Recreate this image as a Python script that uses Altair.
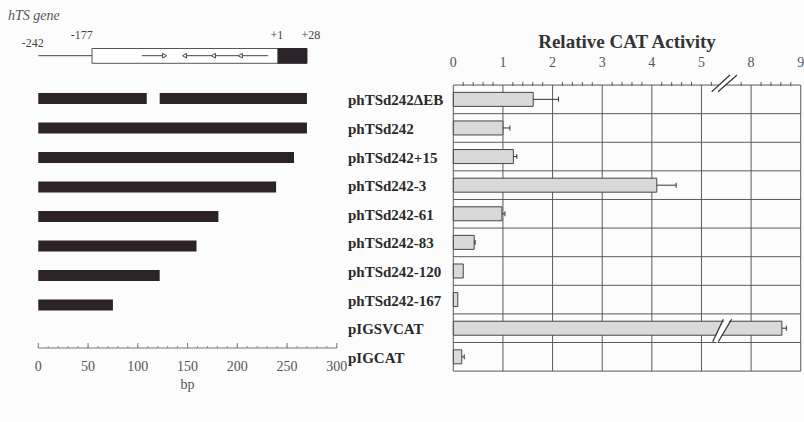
import altair as alt
import pandas as pd

# ---------------- data ----------------
constructs = ["phTSd242\u0394EB", "phTSd242", "phTSd242+15", "phTSd242-3", "phTSd242-61",
              "phTSd242-83", "phTSd242-120", "phTSd242-167", "pIGSVCAT", "pIGCAT"]
activity = [1.61, 1.00, 1.21, 4.10, 0.98, 0.42, 0.20, 0.09, 8.62, 0.17]
error = [0.51, 0.14, 0.07, 0.39, 0.06, 0.02, 0.0, 0.0, 0.09, 0.05]
activity_ticks = [0, 1, 2, 3, 4, 5, 8, 9]
activity_minor = [0.2, 0.4, 0.6, 0.8, 1.2, 1.4, 1.6, 1.8, 2.2, 2.4, 2.6, 2.8,
                  3.2, 3.4, 3.6, 3.8, 4.2, 4.4, 4.6, 4.8, 5.2, 7.8,
                  8.2, 8.4, 8.6, 8.8]
break_value = 5.43

deletion_row = [0, 0, 1, 2, 3, 4, 5, 6, 7]
deletion_start = [0, 122, 0, 0, 0, 0, 0, 0, 0]
deletion_end = [109, 270, 270, 257, 239, 181, 159, 122, 75]

bp_ticks = [0, 50, 100, 150, 200, 250, 300]
bp_minor = list(range(0, 301, 10))

gene_line_start, gene_line_end = [0], [54]
gene_box_start, gene_box_end = [54], [241]
gene_exon_start, gene_exon_end = [241], [270]
arrow_line_start = [104, 146]
arrow_line_end = [126, 231]
arrow_fwd = [127]
arrow_rev = [147, 176, 203]
gene_marks = ["-242", "-177", "+1", "+28"]
gene_mark_bp = [0, 54, 241, 270]

# ---------------- scales ----------------
XL = alt.Scale(domain=[-38.49, 769.55], nice=False, zero=False)
YL = alt.Scale(domain=[-3.339, 10.966], reverse=True, nice=False, zero=False)
XR = alt.Scale(domain=[-9.134, 7.066], nice=False, zero=False)
YR = alt.Scale(domain=[-3.2986, 11.104], reverse=True, nice=False, zero=False)

BREAK = "datum.v > 6 ? datum.v - 2 : datum.v"
SERIF = "Liberation Serif"
DARK = "#2b2327"
GRID = "#5a5a5a"
TXT = "#555555"

one = pd.DataFrame({"a": [0]})

# ---------------- left panel ----------------
del_df = pd.DataFrame({"row": deletion_row, "s": deletion_start, "e": deletion_end})
L = []
L.append(alt.Chart(del_df).mark_rule(color=DARK, strokeWidth=11).encode(
    x=alt.X("s:Q", scale=XL, axis=None), x2="e:Q",
    y=alt.Y("row:Q", scale=YL, axis=None)))

# gene map
L.append(alt.Chart(pd.DataFrame({"s": gene_line_start, "e": gene_line_end})).mark_rule(
    color="#444", strokeWidth=1).encode(
    x=alt.X("s:Q", scale=XL, axis=None), x2="e:Q", y=alt.value(55.7)))
L.append(alt.Chart(pd.DataFrame({"s": gene_box_start, "e": gene_box_end})).mark_rect(
    fill="white", stroke="#555", strokeWidth=1).encode(
    x=alt.X("s:Q", scale=XL, axis=None), x2="e:Q", y=alt.value(48.5), y2=alt.value(63.3)))
L.append(alt.Chart(pd.DataFrame({"s": gene_exon_start, "e": gene_exon_end})).mark_rect(
    fill=DARK, stroke=DARK, strokeWidth=1).encode(
    x=alt.X("s:Q", scale=XL, axis=None), x2="e:Q", y=alt.value(48.5), y2=alt.value(63.3)))
L.append(alt.Chart(pd.DataFrame({"s": arrow_line_start, "e": arrow_line_end})).mark_rule(
    color="#444", strokeWidth=1).encode(
    x=alt.X("s:Q", scale=XL, axis=None), x2="e:Q", y=alt.value(55.7)))
L.append(alt.Chart(pd.DataFrame({"p": arrow_fwd})).mark_point(
    shape="triangle-right", filled=True, fill="white", stroke="#444", strokeWidth=1,
    size=22, opacity=1).encode(x=alt.X("p:Q", scale=XL, axis=None), y=alt.value(55.7)))
L.append(alt.Chart(pd.DataFrame({"p": arrow_rev})).mark_point(
    shape="triangle-left", filled=True, fill="white", stroke="#444", strokeWidth=1,
    size=22, opacity=1).encode(x=alt.X("p:Q", scale=XL, axis=None), y=alt.value(55.7)))

gm_df = pd.DataFrame({"lab": gene_marks, "p": gene_mark_bp})
gm_offsets = {"-242": (-5.5, 43), "-177": (-10.3, 35), "+1": (-1.3, 35), "+28": (4, 35)}
for lab, (dx, yy) in gm_offsets.items():
    L.append(alt.Chart(gm_df).transform_filter(alt.datum.lab == lab).mark_text(
        font=SERIF, fontSize=12, color="#444", dx=dx, baseline="middle").encode(
        x=alt.X("p:Q", scale=XL, axis=None), y=alt.value(yy), text="lab:N"))

L.append(alt.Chart(one).mark_text(font=SERIF, fontSize=14, fontStyle="italic",
                                  color="#555", align="left", baseline="middle").encode(
    x=alt.value(8), y=alt.value(16), text=alt.value("hTS gene")))

# bp axis
bp_df = pd.DataFrame({"t": bp_ticks})
L.append(alt.Chart(one).mark_rule(color="#777", strokeWidth=1).encode(
    x=alt.XDatum(bp_ticks[0], scale=XL, axis=None, type="quantitative"),
    x2=alt.X2Datum(bp_ticks[-1]), y=alt.value(348)))
L.append(alt.Chart(bp_df).mark_rule(color="#777", strokeWidth=1).encode(
    x=alt.X("t:Q", scale=XL, axis=None), y=alt.value(343), y2=alt.value(348)))
L.append(alt.Chart(pd.DataFrame({"t": bp_minor})).mark_rule(color="#888", strokeWidth=1).encode(
    x=alt.X("t:Q", scale=XL, axis=None), y=alt.value(346), y2=alt.value(348)))
L.append(alt.Chart(bp_df).mark_text(font=SERIF, fontSize=14, color=TXT, baseline="middle").encode(
    x=alt.X("t:Q", scale=XL, axis=None), y=alt.value(367), text="t:Q"))
L.append(alt.Chart(one).mark_text(font=SERIF, fontSize=14, color=TXT, baseline="middle").encode(
    x=alt.XDatum(150, scale=XL, axis=None, type="quantitative"), y=alt.value(385),
    text=alt.value("bp")))

left = alt.layer(*L)

# ---------------- right panel ----------------
act_df = pd.DataFrame({"construct": constructs, "r": list(range(len(constructs))),
                       "v": activity, "err": error})
tick_df = pd.DataFrame({"v": activity_ticks, "lab": [str(t) for t in activity_ticks]})
minor_df = pd.DataFrame({"v": activity_minor})
bound_df = pd.DataFrame({"b": [i - 0.5 for i in range(len(constructs) + 1)]})
last_pos = len(activity_ticks) - 1

R = []
R.append(alt.Chart(tick_df).transform_calculate(pos=BREAK).mark_rule(color=GRID, strokeWidth=1).encode(
    x=alt.X("pos:Q", scale=XR, axis=None),
    y=alt.YDatum(-0.5, scale=YR, axis=None, type="quantitative"), y2=alt.Y2Datum(len(constructs) - 0.5)))
R.append(alt.Chart(bound_df).mark_rule(color=GRID, strokeWidth=1).encode(
    x=alt.XDatum(0, scale=XR, axis=None, type="quantitative"), x2=alt.X2Datum(last_pos),
    y=alt.Y("b:Q", scale=YR, axis=None)))
R.append(alt.Chart(minor_df).transform_calculate(pos=BREAK).mark_rule(color=GRID, strokeWidth=1).encode(
    x=alt.X("pos:Q", scale=XR, axis=None), y=alt.value(82), y2=alt.value(86)))

R.append(alt.Chart(act_df).transform_calculate(pos=BREAK).mark_bar(
    orient="horizontal", size=14, fill="#d9d9d9", stroke="#444", strokeWidth=1).encode(
    x=alt.X("pos:Q", scale=XR, axis=None), x2=alt.X2Datum(0),
    y=alt.Y("r:Q", scale=YR, axis=None)))
R.append(alt.Chart(act_df).transform_filter(alt.datum.err > 0).transform_calculate(
    pos=BREAK).transform_calculate(end="datum.pos + datum.err").mark_rule(
    color="#333", strokeWidth=1).encode(
    x=alt.X("pos:Q", scale=XR, axis=None), x2="end:Q", y=alt.Y("r:Q", scale=YR, axis=None)))
R.append(alt.Chart(act_df).transform_filter(alt.datum.err > 0).transform_calculate(
    pos=BREAK).transform_calculate(end="datum.pos + datum.err").mark_tick(
    orient="vertical", size=5, thickness=1, color="#333", opacity=1).encode(
    x=alt.X("end:Q", scale=XR, axis=None), y=alt.Y("r:Q", scale=YR, axis=None)))

# axis break marks
def slash(o1, o2, y1, y2, color, w):
    return alt.Chart(one).transform_calculate(v=str(break_value)).transform_calculate(
        pos=BREAK).mark_rule(color=color, strokeWidth=w, xOffset=o1, x2Offset=o2).encode(
        x=alt.X("pos:Q", scale=XR, axis=None), x2="pos:Q",
        y=alt.value(y1), y2=alt.value(y2))

R.append(slash(-8.0, 10.7, 91.7, 75, "white", 4))
R.append(slash(-11.1, 7.2, 91.7, 75, "#333", 1.2))
R.append(slash(-4.8, 14.2, 91.7, 75, "#333", 1.2))
R.append(slash(-7.3, 4.7, 341.7, 319.3, "white", 4.5))
R.append(slash(-10.1, 0.5, 341.7, 319.3, "#333", 1.2))
R.append(slash(-4.5, 8.9, 341.7, 319.3, "#333", 1.2))

# labels
R.append(alt.Chart(act_df).mark_text(font=SERIF, fontSize=15, fontWeight="bold", color="#2a2a2a",
                                     align="left", baseline="middle", dy=1).encode(
    x=alt.value(348), y=alt.Y("r:Q", scale=YR, axis=None), text="construct:N"))
R.append(alt.Chart(tick_df).transform_calculate(pos=BREAK).mark_text(
    font=SERIF, fontSize=14, color=TXT, baseline="middle").encode(
    x=alt.X("pos:Q", scale=XR, axis=None), y=alt.value(63), text="lab:N"))
R.append(alt.Chart(one).mark_text(font=SERIF, fontSize=19, fontWeight="bold", color="#333",
                                  baseline="middle").encode(
    x=alt.XDatum(last_pos / 2, scale=XR, axis=None, type="quantitative"), y=alt.value(42),
    text=alt.value("Relative CAT Activity")))

right = alt.layer(*R)

chart = alt.layer(left, right).resolve_scale(x="independent", y="independent").properties(
    width=804, height=422, padding=0, autosize=alt.AutoSizeParams(type="none"),
    background="#fcfcfc").configure_view(stroke=None)

chart.save("out.html", embed_options={"renderer": "svg", "actions": False})
